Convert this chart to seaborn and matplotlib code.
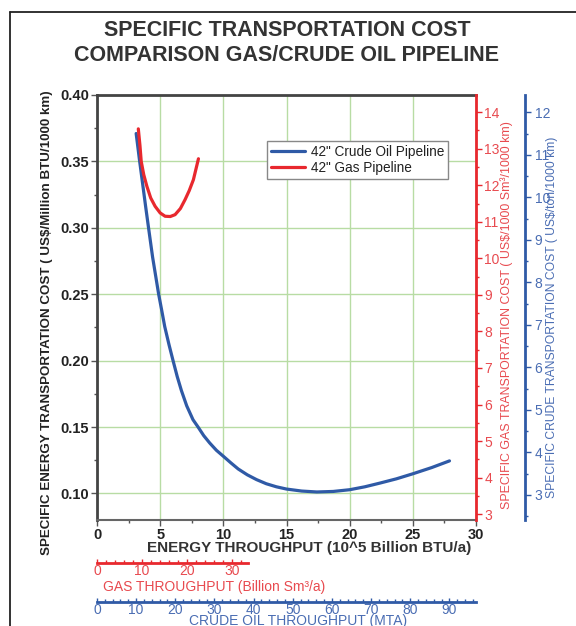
import matplotlib
matplotlib.use("Agg")
import matplotlib.pyplot as plt
from matplotlib.lines import Line2D
from matplotlib.ticker import MultipleLocator, FixedLocator
import numpy as np
import pandas as pd
import seaborn as sns

# Energy throughput (10^5 Billion BTU/a) and specific energy cost (US$/Million BTU/1000 km)
crude_throughput = [3.1, 3.35, 3.6, 3.85, 4.08, 4.4, 4.7, 4.88, 5.1, 5.36, 5.7, 6.02,
                    6.35, 6.68, 7.1, 7.6, 8.0, 8.45, 8.92, 9.45, 10.0, 10.6, 11.18,
                    11.9, 12.63, 13.4, 14.2, 15.0, 16.2, 17.4, 18.7, 20.0, 21.2,
                    22.4, 23.7, 25.0, 26.5, 27.9]
crude_cost = [0.371, 0.352, 0.334, 0.316, 0.300, 0.278, 0.2605, 0.250, 0.239, 0.2257,
              0.212, 0.200, 0.188, 0.1775, 0.166, 0.1555, 0.150, 0.1435, 0.138, 0.1325,
              0.128, 0.123, 0.1184, 0.114, 0.1104, 0.1073, 0.105, 0.1033, 0.1018,
              0.1011, 0.1015, 0.1028, 0.105, 0.1078, 0.111, 0.1148, 0.1195, 0.1245]

gas_throughput = [3.27, 3.4, 3.5, 3.7, 3.95, 4.25, 4.6, 5.0, 5.39, 5.8, 6.18, 6.6,
                  6.97, 7.3, 7.63, 8.03]
gas_cost = [0.3745, 0.362, 0.350, 0.340, 0.3312, 0.3225, 0.3162, 0.3112, 0.3087,
            0.3085, 0.3099, 0.3145, 0.3212, 0.328, 0.3362, 0.352]

series_names = ['42" Crude Oil Pipeline', '42" Gas Pipeline']

energy_ticks = [0, 5, 10, 15, 20, 25, 30]
energy_cost_ticks = [0.10, 0.15, 0.20, 0.25, 0.30, 0.35, 0.40]
gas_cost_ticks = list(range(3, 15))
crude_cost_ticks = list(range(3, 13))
gas_tp_ticks = [0, 10, 20, 30]
crude_tp_ticks = list(range(0, 100, 10))

BLUE = "#2f5aa6"
BLUE_TXT = "#4a6db3"
RED = "#e8282e"
RED_TXT = "#e84a4f"
DARK = "#333333"
GRID = "#b8dca4"

sns.set_theme(style="white")
plt.rcParams["font.family"] = ["Liberation Sans", "DejaVu Sans"]

df = pd.concat([
    pd.DataFrame({"energy": crude_throughput, "cost": crude_cost, "pipeline": series_names[0]}),
    pd.DataFrame({"energy": gas_throughput, "cost": gas_cost, "pipeline": series_names[1]}),
])

fig = plt.figure(figsize=(5.76, 6.26), dpi=100)
W, H = 576, 626
L, R, T, B = 97, 476, 95, 520
ax = fig.add_axes([L / W, 1 - B / H, (R - L) / W, (B - T) / H])

ax.xaxis.grid(True, color=GRID, lw=1)
ax.yaxis.grid(True, color=GRID, lw=1)
ax.set_axisbelow(True)

sns.lineplot(data=df, x="energy", y="cost", hue="pipeline",
             palette={series_names[0]: BLUE, series_names[1]: RED},
             lw=2.3, ax=ax, legend=False, sort=False)

ax.set_xlim(0, 30)
ax.set_ylim(0.080, 0.40)
ax.set_xticks(energy_ticks)
ax.set_yticks(energy_cost_ticks)
ax.xaxis.set_minor_locator(MultipleLocator(2.5))
ax.yaxis.set_minor_locator(MultipleLocator(0.025))
ax.set_yticklabels([f"{v:.2f}" for v in energy_cost_ticks])
ax.set_xlabel("")
ax.set_ylabel("")
ax.tick_params(axis="both", which="both", top=False, right=False)
ax.tick_params(axis="both", which="major", direction="out", length=4, width=1,
               color="#555555", labelsize=10.5, labelcolor="#222222", pad=1.5)
ax.tick_params(axis="both", which="minor", direction="out", length=2.5, width=1,
               color="#555555")
for lab in ax.get_xticklabels() + ax.get_yticklabels():
    lab.set_fontweight("bold")
ax.spines["right"].set_visible(False)
for s in ["left", "top"]:
    ax.spines[s].set_color("#444444")
    ax.spines[s].set_linewidth(2)
ax.spines["bottom"].set_color("#666666")
ax.spines["bottom"].set_linewidth(1.5)

# gas cost scale
ax_red = ax.twinx()
ax_red.set_ylim(2.84, 14.47)
ax_red.set_yticks(gas_cost_ticks)
ax_red.yaxis.set_minor_locator(MultipleLocator(0.5))
for s in ["left", "top", "bottom"]:
    ax_red.spines[s].set_visible(False)
ax_red.spines["right"].set_color(RED)
ax_red.spines["right"].set_linewidth(2)
ax_red.tick_params(axis="y", which="both", left=False, right=True)
ax_red.tick_params(axis="y", which="major", direction="out", length=4, width=1,
                   color=RED, labelcolor=RED_TXT, labelsize=10, pad=2)
ax_red.tick_params(axis="y", which="minor", direction="out", length=2, width=1, color=RED)

# crude cost scale
ax_blue = ax.twinx()
ax_blue.set_ylim(2.41, 12.41)
ax_blue.set_yticks(crude_cost_ticks)
ax_blue.yaxis.set_minor_locator(MultipleLocator(0.5))
ax_blue.spines["right"].set_position(("axes", (525 - L) / (R - L)))
for s in ["left", "top", "bottom"]:
    ax_blue.spines[s].set_visible(False)
ax_blue.spines["right"].set_color(BLUE)
ax_blue.spines["right"].set_linewidth(2)
ax_blue.tick_params(axis="y", which="both", left=False, right=True)
ax_blue.tick_params(axis="y", which="major", direction="out", length=4, width=1,
                    color=BLUE, labelcolor=BLUE_TXT, labelsize=10, pad=3)
ax_blue.tick_params(axis="y", which="minor", direction="out", length=2, width=1, color=BLUE)

# gas throughput scale
ax_gas = ax.twiny()
ax_gas.set_xlim(0, (R - L) / 4.49)
ax_gas.xaxis.set_major_locator(FixedLocator(gas_tp_ticks))
ax_gas.xaxis.set_minor_locator(FixedLocator(np.arange(0, 34, 2)))
ax_gas.spines["bottom"].set_position(("axes", (B - 562.7) / (B - T)))
ax_gas.spines["bottom"].set_bounds(0, 33.6)
for s in ["left", "top", "right"]:
    ax_gas.spines[s].set_visible(False)
ax_gas.spines["bottom"].set_visible(True)
ax_gas.spines["bottom"].set_color(RED)
ax_gas.spines["bottom"].set_linewidth(2)
ax_gas.tick_params(axis="x", which="both", top=False, labeltop=False,
                   bottom=True, labelbottom=True)
ax_gas.tick_params(axis="x", which="major", direction="in", length=3, width=1,
                   color=RED, labelcolor=RED_TXT, labelsize=10, pad=1)
ax_gas.tick_params(axis="x", which="minor", direction="in", length=2, width=1, color=RED)
ax_gas.tick_params(axis="y", which="both", left=False, right=False,
                   labelleft=False, labelright=False)

# crude oil throughput scale
ax_oil = ax.twiny()
ax_oil.set_xlim(0, 96.8)
ax_oil.xaxis.set_major_locator(FixedLocator(crude_tp_ticks))
ax_oil.xaxis.set_minor_locator(FixedLocator(np.arange(0, 97, 2)))
ax_oil.spines["bottom"].set_position(("axes", (B - 601.7) / (B - T)))
for s in ["left", "top", "right"]:
    ax_oil.spines[s].set_visible(False)
ax_oil.spines["bottom"].set_visible(True)
ax_oil.spines["bottom"].set_color(BLUE)
ax_oil.spines["bottom"].set_linewidth(2)
ax_oil.tick_params(axis="x", which="both", top=False, labeltop=False,
                   bottom=True, labelbottom=True)
ax_oil.tick_params(axis="x", which="major", direction="in", length=3, width=1,
                   color=BLUE, labelcolor=BLUE_TXT, labelsize=10, pad=1)
ax_oil.tick_params(axis="x", which="minor", direction="in", length=2, width=1, color=BLUE)
ax_oil.tick_params(axis="y", which="both", left=False, right=False,
                   labelleft=False, labelright=False)

# legend
handles = [Line2D([], [], color=BLUE, lw=2.3), Line2D([], [], color=RED, lw=2.3)]
leg = ax.legend(handles, series_names, loc="upper left",
                bbox_to_anchor=((267 - L) / (R - L), (B - 141) / (B - T)),
                borderaxespad=0, fontsize=9.8, handlelength=2.5, handletextpad=0.4,
                borderpad=0.3, labelspacing=0.15, fancybox=False, framealpha=1)
leg.get_frame().set_edgecolor("#888888")
leg.get_frame().set_linewidth(1)
for t in leg.get_texts():
    t.set_color("#222222")
leg.set_zorder(10)

# titles and axis labels
fig.text(287 / W, 1 - 43 / H, "SPECIFIC TRANSPORTATION COST\nCOMPARISON GAS/CRUDE OIL PIPELINE",
         ha="center", va="center", fontsize=15.5, fontweight="bold", color=DARK,
         linespacing=1.3)
fig.text(47 / W, 1 - 323 / H, "SPECIFIC ENERGY TRANSPORTATION COST ( US$/Million BTU/1000 km)",
         rotation=90, ha="center", va="center", fontsize=9.6, fontweight="bold", color="#222222")
fig.text(309 / W, 1 - 548 / H, "ENERGY THROUGHPUT (10^5 Billion BTU/a)",
         ha="center", va="center", fontsize=11, fontweight="bold", color=DARK)
fig.text(507 / W, 1 - 315 / H, "SPECIFIC GAS TRANSPORTATION COST ( US$/1000 Sm³/1000 km)",
         rotation=90, ha="center", va="center", fontsize=8.9, color=RED_TXT)
fig.text(552 / W, 1 - 317 / H, "SPECIFIC CRUDE TRANSPORTATION COST ( US$/ton/1000 km)",
         rotation=90, ha="center", va="center", fontsize=8.7, color=BLUE_TXT)
fig.text(214 / W, 1 - 587 / H, "GAS THROUGHPUT (Billion Sm³/a)",
         ha="center", va="center", fontsize=10, color=RED_TXT)
fig.text(298 / W, 1 - 621 / H, "CRUDE OIL THROUGHPUT (MTA)",
         ha="center", va="center", fontsize=10, color=BLUE_TXT)

# outer frame
fig.add_artist(Line2D([10 / W, 10 / W], [0, 1 - 12 / H], transform=fig.transFigure,
                      color="#222222", lw=1.3))
fig.add_artist(Line2D([10 / W, 1], [1 - 12 / H, 1 - 12 / H], transform=fig.transFigure,
                      color="#222222", lw=1.3))

fig.savefig("out.png", dpi=100)
